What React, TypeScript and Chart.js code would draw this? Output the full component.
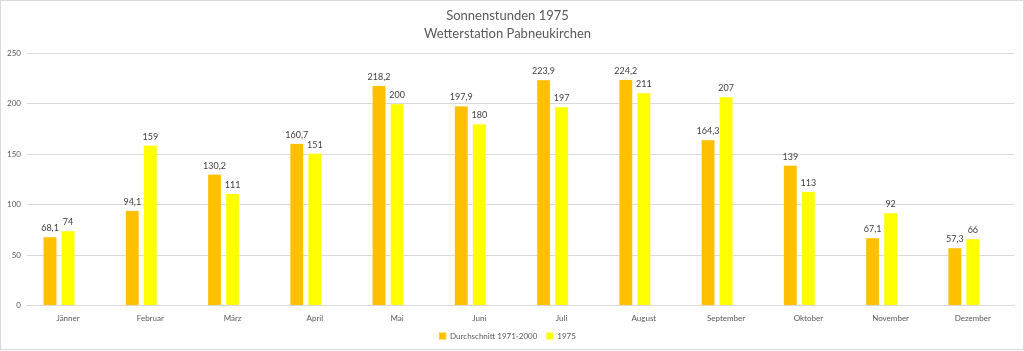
import React, { useEffect, useRef } from "react";
import { Chart, registerables } from "chart.js";

Chart.register(...registerables);

const categories = ["Jänner", "Februar", "März", "April", "Mai", "Juni", "Juli", "August", "September", "Oktober", "November", "Dezember"];
const durchschnitt = [68.1, 94.1, 130.2, 160.7, 218.2, 197.9, 223.9, 224.2, 164.3, 139, 67.1, 57.3];
const jahr1975 = [74, 159, 111, 151, 200, 180, 197, 211, 207, 113, 92, 66];
const leer = categories.map(() => null);
const seriesNames = ["Durchschnitt 1971-2000", "1975", ""];
const titleLines = ["Sonnenstunden 1975", "Wetterstation Pabneukirchen"];

const FONT = "Lato, 'Open Sans', sans-serif";

const labelPlugin = {
  id: "valueLabels",
  afterDatasetsDraw(chart: any) {
    const ctx = chart.ctx;
    ctx.save();
    ctx.font = `9px ${FONT}`;
    ctx.fillStyle = "#404040";
    ctx.textAlign = "center";
    ctx.textBaseline = "bottom";
    chart.data.datasets.forEach((ds: any, i: number) => {
      const meta = chart.getDatasetMeta(i);
      meta.data.forEach((bar: any, j: number) => {
        const v = ds.data[j];
        if (v === null || v === undefined) return;
        ctx.fillText(String(v).replace(".", ","), bar.x, bar.y - 4);
      });
    });
    ctx.restore();
  },
};

export default function App() {
  const ref = useRef<HTMLCanvasElement>(null);
  useEffect(() => {
    document.body.style.margin = "0";
    const chart = new Chart(ref.current!, {
      type: "bar",
      data: {
        labels: categories,
        datasets: [
          { label: seriesNames[0], data: durchschnitt, backgroundColor: "#FFC000", borderColor: "#FFE08A", borderWidth: 0.5 },
          { label: seriesNames[1], data: jahr1975, backgroundColor: "#FFFF00", borderColor: "#FFFF99", borderWidth: 0.5 },
          { label: seriesNames[2], data: leer as any, backgroundColor: "rgba(0,0,0,0)" },
        ],
      },
      options: {
        animation: false,
        responsive: false,
        maintainAspectRatio: false,
        layout: { padding: { left: 0, right: 9, top: 2, bottom: -1 } },
        datasets: { bar: { categoryPercentage: 0.658, barPercentage: 0.76 } },
        plugins: {
          title: {
            display: true,
            text: titleLines,
            color: "#595959",
            font: { family: FONT, size: 13, weight: "normal", lineHeight: 1.4 },
            padding: { top: 4, bottom: 10 },
          },
          legend: {
            position: "bottom",
            labels: {
              boxWidth: 7,
              boxHeight: 7,
              color: "#595959",
              font: { family: FONT, size: 8 },
              padding: 9,
              filter: (item: any) => item.text !== "",
            },
          },
          tooltip: { enabled: false },
        },
        scales: {
          x: {
            grid: { display: false },
            border: { color: "#d9d9d9" },
            ticks: { color: "#595959", font: { family: FONT, size: 8 }, padding: 0 },
          },
          y: {
            min: 0,
            max: 250,
            ticks: { stepSize: 50, color: "#595959", font: { family: FONT, size: 8 }, padding: 6 },
            grid: { color: "#d9d9d9", drawTicks: false },
            border: { display: false },
          },
        },
      },
      plugins: [labelPlugin],
    });
    return () => chart.destroy();
  }, []);
  return (
    <div style={{ width: 1022, height: 348, border: "1px solid #d9d9d9", background: "#fff" }}>
      <canvas ref={ref} width={1022} height={348} />
    </div>
  );
}
